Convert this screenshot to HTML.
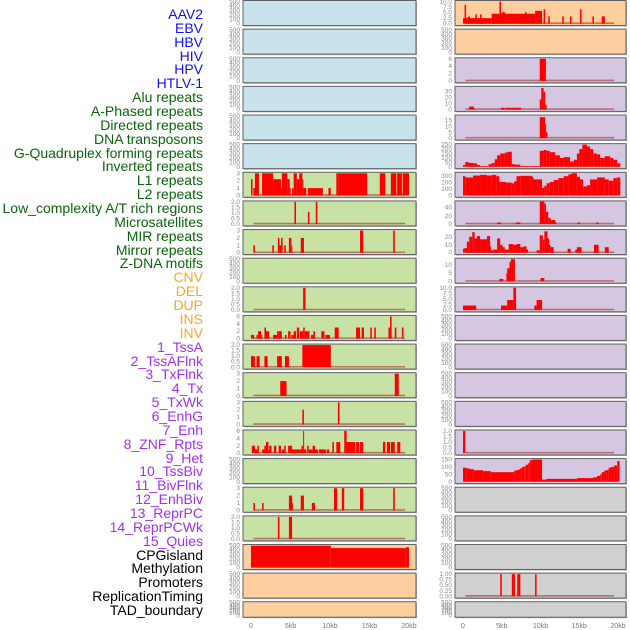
<!DOCTYPE html>
<html><head><meta charset="utf-8"><style>
html,body{margin:0;padding:0;background:#fff;}
#wrap{position:relative;width:630px;height:630px;overflow:hidden;}
.lab{position:absolute;right:427px;font:14px "Liberation Sans",sans-serif;white-space:nowrap;line-height:14px;}
svg{position:absolute;left:0;top:0;}
</style></head><body>
<div id="wrap">
<svg id="svg" width="630" height="630"></svg>
</div>
<script>
// ---- labels ----
const labelNames=["AAV2","EBV","HBV","HIV","HPV","HTLV-1","Alu repeats","A-Phased repeats","Directed repeats","DNA transposons","G-Quadruplex forming repeats","Inverted repeats","L1 repeats","L2 repeats","Low_complexity A/T rich regions","Microsatellites","MIR repeats","Mirror repeats","Z-DNA motifs","CNV","DEL","DUP","INS","INV","1_TssA","2_TssAFlnk","3_TxFlnk","4_Tx","5_TxWk","6_EnhG","7_Enh","8_ZNF_Rpts","9_Het","10_TssBiv","11_BivFlnk","12_EnhBiv","13_ReprPC","14_ReprPCWk","15_Quies","CPGisland","Methylation","Promoters","ReplicationTiming","TAD_boundary"];
const labelGroups=["v","v","v","v","v","v","r","r","r","r","r","r","r","r","r","r","r","r","r","s","s","s","s","s","c","c","c","c","c","c","c","c","c","c","c","c","c","c","c","o","o","o","o","o"];
const groupColors={v:"#1010f0",r:"#0a640a",s:"#ffa520",c:"#a030f0",o:"#000"};

// ---- x axis ----
const xTickValues=[0,5,10,15,20];
const xTickLabels=["0","5kb","10kb","15kb","20kb"];

// ---- tick sets ----
const T500=["0","100","200","300","400","500"];
const T500v=[0,100,200,300,400,500];
const T3v=[0,1,2,3], T3=["0","1","2","3"];
const T2v=[0,0.5,1,1.5,2], T2=["0.0","0.5","1.0","1.5","2.0"];
const T6v=[0,2,4,6], T6=["0","2","4","6"];
const T10v=[0,2.5,5,7.5,10], T10=["0.0","2.5","5.0","7.5","10.0"];

// ---- left column data: segments [startKb, endKb, value] ----
const L7=[[0,0.2,2.2],[0.3,0.5,1],[0.5,1.0,3],[1.4,2.8,3],[2.8,3.8,2.2],[3.8,4.0,1],[3.9,4.6,3],[4.6,4.9,2.2],[4.9,5.0,1],[5.2,5.4,1],[5.4,5.8,3],[5.8,6.1,2.2],[6.1,6.5,3],[6.5,6.6,2.2],[6.6,7.0,1],[7.2,9.1,1],[9.8,10.1,1],[10.8,11.1,3],[11.1,14.7,3],[16.3,17.0,3],[17.7,18.4,3],[18.5,19.1,3],[19.2,20.0,3]];
const L8=[[5.5,5.7,2],[7.2,7.4,1.1],[8.2,8.4,2]];
const L9=[[0.3,0.5,1],[2.7,2.9,1],[3.4,3.6,2],[3.6,3.8,1],[3.8,4.0,2],[4.2,4.4,1],[4.8,5.1,2],[5.1,5.2,1],[6.3,6.7,2],[13.8,14.2,3],[18.0,18.2,3]];
const L11=[[6.6,6.9,2]];
const L12=[[0,0.4,1],[0.7,0.9,1],[0.9,1.3,2],[1.3,1.4,1],[1.7,1.9,3],[1.9,2.3,2],[2.8,3.3,1],[3.3,3.5,2],[3.5,3.9,2],[4.3,4.5,1],[4.7,5.0,2],[5.1,5.4,1],[5.4,5.7,2],[5.8,6.1,3],[6.2,6.6,2],[6.6,6.8,3],[6.8,7.4,2],[7.6,7.9,1],[7.9,8.1,2],[8.9,9.3,2],[9.4,10.0,1],[10.6,11.1,3],[13.3,13.8,3],[14.0,14.3,3],[15.1,15.3,3],[15.6,15.8,3],[17.4,17.6,3],[17.6,17.8,6],[18.2,18.4,3],[19.1,19.3,3]];
const L13=[[0,0.5,1],[0.7,1.1,1],[1.7,2.1,1],[3.3,3.9,1],[4.3,4.8,1],[6.5,10.1,2]];
const L14=[[3.7,4.5,2],[18.2,18.7,3]];
const L15=[[6.5,6.7,2],[11.0,11.2,3]];
const L16=[[0.1,0.5,2],[0.5,0.8,1],[0.8,1.0,2],[1.4,1.7,1],[1.7,1.9,2],[1.9,2.2,3],[2.2,2.3,1],[2.3,2.6,2],[2.9,3.2,2],[3.5,3.8,2],[3.9,4.2,1],[4.2,4.4,2],[4.7,5.2,2],[5.2,6.5,1],[6.4,6.6,2],[6.6,6.7,6],[6.7,7.0,1],[7.1,7.3,2],[7.3,7.8,1],[7.8,8.1,2],[8.1,8.5,1],[8.6,9.5,1],[9.6,9.9,1],[10.3,10.5,3],[10.8,11.3,3],[11.8,12.1,6],[12.1,13.2,3],[13.3,13.7,3],[13.8,14.2,3],[16.7,17.0,3],[17.2,17.6,3],[17.7,18.2,3],[18.5,18.9,3]];
const L18=[[0.3,0.5,1],[1.4,1.6,1],[4.8,5.2,2],[5.2,5.3,1],[6.3,6.7,2],[7.7,8.1,1],[10.5,10.9,3],[11.5,11.8,3],[13.8,14.2,3],[18.0,18.2,3]];
const L19=[[3.4,3.6,2],[4.8,5.2,2]];
const L20=[[0,10.1,495],[10.1,19.6,440],[19.6,20.0,460]];

// ---- right column data ----
const R1=[[0,3.7,2.5],[0.2,0.4,8.5],[0.6,0.9,3.2],[1.6,1.8,4.2],[2.2,2.4,4.2],[3.7,9.3,4.5],[4.7,4.9,10],[5.0,5.4,5.2],[8.0,8.2,5.3],[9.3,10.2,5.8],[10.4,10.6,6.5],[11.0,11.2,3.3],[12.8,13.0,3.3],[13.8,14.0,3.3],[15.1,15.3,6.5],[16.7,16.9,3.3],[17.9,18.3,3.3]];
const R3=[[9.9,10.7,6]];
const R4=[[0.8,1.4,5],[1.4,1.5,2],[4.9,5.4,3],[5.5,7.5,3],[9.9,10.1,17],[10.1,10.4,36],[10.4,10.6,30],[10.6,10.8,8]];
const R5=[[9.9,10.6,18],[10.6,10.7,12],[10.7,10.9,5]];
const R6=[[0,0.3,20],[0.3,0.7,55],[0.7,1.3,45],[1.3,1.8,40],[1.8,2.2,20],[2.2,3.3,10],[3.3,3.7,30],[3.7,4.1,45],[4.1,4.4,85],[4.4,4.8,130],[4.8,5.4,150],[5.4,5.7,160],[5.7,6.3,170],[6.3,6.7,30],[6.7,7.4,25],[7.4,9.9,10],[9.9,10.4,180],[10.4,10.8,190],[10.8,11.2,180],[11.2,11.9,165],[11.9,12.5,130],[12.5,13.0,100],[13.0,13.8,110],[13.8,14.3,60],[14.3,14.7,80],[14.7,15.0,150],[15.0,15.4,200],[15.4,16.0,250],[16.0,16.4,230],[16.4,16.8,200],[16.8,17.3,150],[17.3,17.7,140],[17.7,18.3,100],[18.3,19.0,120],[19.0,19.4,100],[19.4,19.9,80],[19.9,20.3,40]];
const R7=[[0,0.3,300],[0.3,1.3,280],[1.3,2.2,310],[2.2,3.1,320],[3.1,3.7,310],[3.7,4.3,320],[4.3,4.7,300],[4.7,5.6,210],[5.6,6.3,200],[6.3,6.6,190],[6.6,6.9,220],[6.9,7.4,300],[7.4,8.9,305],[8.9,9.1,290],[9.1,10.2,250],[10.2,10.5,120],[10.5,10.8,150],[10.8,11.2,190],[11.2,11.7,210],[11.7,12.3,240],[12.3,13.0,270],[13.0,13.6,300],[13.6,14.0,330],[14.0,14.7,345],[14.7,15.1,290],[15.1,15.5,250],[15.5,16.0,140],[16.0,16.4,160],[16.4,17.3,250],[17.3,18.3,280],[18.3,18.8,250],[18.8,19.4,230],[19.4,19.9,270],[19.9,20.3,280]];
const R8=[[4.4,4.9,4],[6.8,7.4,4],[9.9,10.5,55],[10.5,10.7,50],[10.7,11.0,30],[11.0,11.3,15],[11.3,11.9,10],[11.9,12.0,5],[14.8,15.1,4],[17.2,17.5,4]];
const R9=[[0,0.2,5],[0.2,0.5,6],[0.5,0.8,14],[0.8,1.2,20],[1.2,1.5,26],[1.5,1.8,18],[1.8,2.2,21],[2.2,3.1,17],[3.1,3.5,21],[3.5,3.6,8],[3.6,3.9,3],[3.9,4.4,4],[4.4,4.8,18],[4.8,5.1,10],[5.1,5.4,7],[5.4,5.9,4],[5.9,6.5,11],[6.5,6.9,10],[6.9,7.4,11],[7.4,7.8,7],[7.8,8.2,8],[8.2,8.4,4],[9.5,9.9,3],[9.9,10.3,22],[10.3,10.5,16],[10.5,10.9,27],[10.9,11.1,18],[11.1,11.3,10],[11.3,11.7,7],[13.5,13.9,5],[14.5,14.7,4],[14.7,15.3,7],[16.9,17.5,10],[18.3,18.8,7]];
const R10=[[4.7,5.2,1.5],[5.6,5.7,5],[5.7,6.0,8],[6.0,6.2,12],[6.2,6.7,13.5],[10.0,10.5,2]];
const R11=[[0,1.7,2],[4.9,5.7,2],[5.7,6.5,4.5],[6.5,6.85,10],[9.2,9.5,2],[9.5,10.2,4.5]];
const R16=[[0,0.3,2]];
const R17=[[0,0.5,95],[0.5,0.9,90],[0.9,1.4,85],[1.4,2.6,78],[2.6,3.6,72],[3.6,6.6,65],[6.6,6.9,75],[6.9,7.3,80],[7.3,7.6,90],[7.6,7.9,100],[7.9,8.1,105],[8.1,8.4,115],[8.4,8.6,125],[8.6,8.9,145],[8.9,10.2,150],[10.2,10.8,15],[10.8,14.7,20],[14.7,16.8,25],[16.8,17.3,30],[17.3,17.7,40],[17.7,17.9,50],[17.9,18.2,65],[18.2,18.5,75],[18.5,18.8,80],[18.8,19.1,95],[19.1,19.5,100],[19.5,19.9,110],[19.9,20.2,140]];
const R21=[[4.8,5.0,1],[6.3,6.7,1],[7.0,7.4,1],[9.3,9.5,1]];

const BL="#c8e3eb",GR="#c8e1a5",OR="#fecf9e",PU="#d5c6e2",GY="#d0d0d0";
// row specs: [fill, data, max, tickValues, tickLabels, baseline]
const leftRows=[
[BL,null,500,T500v,T500],[BL,null,500,T500v,T500],[BL,null,500,T500v,T500],[BL,null,500,T500v,T500],[BL,null,500,T500v,T500],[BL,null,500,T500v,T500],
[GR,L7,3,T3v,T3,1],[GR,L8,2,T2v,T2,1],[GR,L9,3,T3v,T3,1],[GR,null,500,T500v,T500],[GR,L11,2,T2v,T2,1],[GR,L12,6,T6v,T6,1],[GR,L13,2,T2v,T2,1],[GR,L14,3,T3v,T3,1],[GR,L15,3,T3v,T3,1],[GR,L16,6,T6v,T6,1],[GR,null,500,T500v,T500],[GR,L18,3,T3v,T3,1],[GR,L19,2,T2v,T2,1],
[OR,L20,500,T500v,T500],[OR,null,500,T500v,T500],[OR,null,500,T500v,T500]];
const rightRows=[
[OR,R1,10,T10v,T10,1],[OR,null,500,T500v,T500],
[PU,R3,6,[0,2,4,6],["0","2","4","6"],1],[PU,R4,37,[0,10,20,30],["0","10","20","30"],1],[PU,R5,19,[0,5,10,15],["0","5","10","15"],1],
[PU,R6,250,[0,50,100,150,200,250],["0","50","100","150","200","250"]],[PU,R7,345,[0,100,200,300],["0","100","200","300"]],
[PU,R8,54,[0,20,40],["0","20","40"],1],[PU,R9,28,[0,10,20],["0","10","20"],1],[PU,R10,13.5,[0,5,10],["0","5","10"],1],[PU,R11,10,T10v,T10,1],
[PU,null,500,T500v,T500],[PU,null,500,T500v,T500],[PU,null,500,T500v,T500],[PU,null,500,T500v,T500],
[PU,R16,2,T2v,T2,1],[PU,R17,150,[0,50,100,150],["0","50","100","150"]],
[GY,null,500,T500v,T500],[GY,null,500,T500v,T500],[GY,null,500,T500v,T500],[GY,R21,1,[0,0.25,0.5,0.75,1],["0.00","0.25","0.50","0.75","1.00"],1],[GY,null,500,T500v,T500]];

const NS="http://www.w3.org/2000/svg";
const svg=document.getElementById('svg');
function mk(tag,attrs,parent){const e=document.createElementNS(NS,tag);for(const k in attrs)e.setAttribute(k,attrs[k]);(parent||svg).appendChild(e);return e;}

// labels
const wrap=document.getElementById('wrap');
labelNames.forEach((n,i)=>{
  const d=document.createElement('div');
  d.className='lab';
  d.textContent=n;
  d.style.color=groupColors[labelGroups[i]];
  d.style.top=(15+i*13.86-8)+'px';
  
  
  wrap.appendChild(d);
});

const cols=[{x0:243,x1:416,z0:251,z20:409,rows:leftRows,name:'left'},{x0:455,x1:626,z0:463,z20:618,rows:rightRows,name:'right'}];
function rowTop(i){return 0.5+i*28.63;}
function rowH(i){return i===21?15.5:25;}
cols.forEach(c=>{
  const xs=kb=>c.z0+(c.z20-c.z0)*kb/20;
  c.rows.forEach((r,i)=>{
    const top=rowTop(i),h=rowH(i),bot=top+h;
    const g=mk('g',{});
    
    
    mk('rect',{x:c.x0+1,y:top+1,width:c.x1-c.x0,height:h,fill:'#b0b0b0'},g);
    mk('rect',{x:c.x0,y:top,width:c.x1-c.x0,height:h,fill:r[0],stroke:'#606060','stroke-width':1},g);
    const y0=bot-1.8,y1=top+1;
    const ys=v=>y0-(y0-y1)*v/r[2];
    // ticks
    r[3].forEach((tv,k)=>{
      const t=mk('text',{x:c.x0-3,y:ys(tv)+2,'text-anchor':'end','font-size':'6.5','font-family':'Liberation Sans, sans-serif',fill:'#8a8a8a'},g);
      t.textContent=r[4][k];
      
      
    });
    if(r[5]){
      const bl=mk('line',{x1:xs(0.3),x2:xs(19.5),y1:y0-0.5,y2:y0-0.5,stroke:'rgba(170,60,60,0.65)','stroke-width':1.6},g);
      
      
    }
    if(r[1]){
      r[1].forEach(s=>{
        const b=mk('rect',{x:xs(s[0]),y:ys(s[2]),width:Math.max(xs(s[1])-xs(s[0]),1),height:y0-ys(s[2]),fill:'#ff0000'},g);
        
        
      });
    }
  });
  xTickValues.forEach((v,k)=>{
    const t=mk('text',{x:xs(v),y:628,'text-anchor':'middle','font-size':'7','font-family':'Liberation Sans, sans-serif',fill:'#777'});
    t.textContent=xTickLabels[k];
    
    
  });
});
</script>
</body></html>
